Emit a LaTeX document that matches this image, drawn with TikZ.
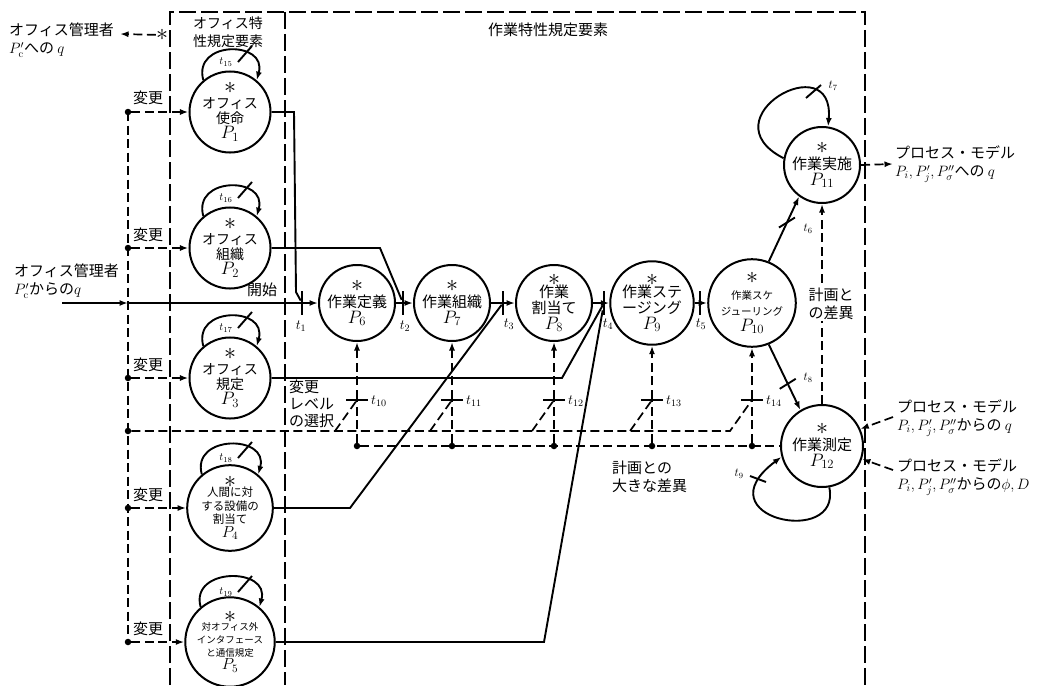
\documentclass[tikz,border=0pt]{standalone}
\usepackage{fix-cm}
\usepackage[no-math]{fontspec}
\setmainfont{Noto Sans CJK JP}
\usetikzlibrary{arrows.meta}
\newcommand\plstar{{\fontsize{24}{16}\selectfont$\ast$}}
\newcommand\pp[1]{{\fontsize{18}{16}\selectfont$P_{#1}$}}
\newcommand\pps[1]{{\fontsize{16}{14}\selectfont$P_{#1}$}}
\begin{document}
\begin{tikzpicture}[x=1pt,y=-1pt,
  every node/.style={inner sep=0pt},
  ln/.style={line width=1.9pt},
  dsh/.style={line width=1.7pt,dash pattern=on 9pt off 4.5pt},
  bxl/.style={line width=1.9pt,dash pattern=on 17pt off 5pt},
  arr/.style={-{Latex[length=8.5pt,width=6pt]}},
  pl/.style={circle,draw,line width=2pt,minimum size=76pt,align=center,font=\fontsize{15}{16}\selectfont},
  vbar/.style={fill=black,minimum width=2.2pt,minimum height=24pt},
  hbar/.style={fill=black,minimum width=22pt,minimum height=2.2pt},
  jdot/.style={circle,fill=black,minimum size=6.5pt},
  lab/.style={font=\fontsize{15}{18}\selectfont,align=left},
  tl/.style={font=\fontsize{14}{14}\selectfont},
  tls/.style={font=\fontsize{12}{12}\selectfont},
]
\useasboundingbox (0,0) rectangle (1043,685);
\fill[white] (0,0) rectangle (1043,685);

% frames
\draw[bxl] (170,685) -- (170,12) -- (865,12) -- (865,685);
\draw[bxl] (285,12) -- (285,685);
\node[lab,align=center,font=\fontsize{14}{18}\selectfont] (ttl1) at (228,32) {オフィス特\\性規定要素};
\node[lab] (ttl2) at (548,30) {作業特性規定要素};

% office places
\node[pl,font=\fontsize{14}{15}\selectfont] (P1) at (230,112) {\plstar\\オフィス\\使命\\\pp{1}};
\node[pl,font=\fontsize{14}{15}\selectfont] (P2) at (230,248) {\plstar\\オフィス\\組織\\\pp{2}};
\node[pl,font=\fontsize{14}{15}\selectfont] (P3) at (230,378) {\plstar\\オフィス\\規定\\\pp{3}};
\node[pl,font=\fontsize{11.5}{13.5}\selectfont] (P4) at (230,508) {\plstar\\[-4pt]人間に対\\する設備の\\割当て\\\pps{4}};
\node[pl,font=\fontsize{9.5}{13}\selectfont] (P5) at (230,642) {\plstar\\[-5pt]対オフィス外\\インタフェース\\と通信規定\\\pps{5}};

\foreach \p/\t in {P1/15,P2/16,P3/17,P4/18,P5/19}{
  \draw[ln,arr] (\p.130) .. controls +(-11,-40) and +(11,-40) .. (\p.50);
  \node[tls,font=\fontsize{11}{11}\selectfont] (lt\t) at ([shift={(-4,-50)}]\p.center) {$t_{\t}$};
  \draw[ln] ([shift={(8,-50)}]\p.center) -- ([shift={(22,-66)}]\p.center);
}

% left change bus
\node[jdot] (L1) at (128,112) {};
\node[jdot] (L2) at (128,248) {};
\node[jdot] (L3) at (128,378) {};
\node[jdot] (LB) at (128,431) {};
\node[jdot] (L4) at (128,508) {};
\node[jdot] (L5) at (128,642) {};
\draw[dsh] (L1.center) -- (L5.center);
\foreach \i in {1,...,5}{
  \draw[dsh,arr] (L\i) -- (P\i);
}
\node[lab] (c1) at (148,98) {変更};
\node[lab] (c2) at (148,235) {変更};
\node[lab] (c3) at (148,365) {変更};
\node[lab] (c4) at (148,495) {変更};
\node[lab] (c5) at (148,629) {変更};

% top-left output
\node[lab,anchor=west] (M1) at (9,40) {オフィス管理者\\$P'_{\mathrm c}$への $q$};
\node[font=\fontsize{24}{16}\selectfont] (ast0) at (162,35) {$\ast$};
\coordinate (M0) at (120,34);
\draw[dsh,arr] (ast0) -- (M0);

% start input
\node[lab,anchor=west] (M2) at (14,281) {オフィス管理者\\$P'_{\mathrm c}$からの$q$};
\coordinate (S0) at (62,303);
\coordinate (S1) at (128,303);
\node[lab] (start) at (262,290) {開始};

% main places
\node[pl] (P6) at (357,303) {\plstar\\作業定義\\\pp{6}};
\node[pl] (P7) at (452,303) {\plstar\\作業組織\\\pp{7}};
\node[pl] (P8) at (554,303) {\plstar\\[-4pt]作業\\割当て\\\pp{8}};
\node[pl] (P9) at (652,303) {\plstar\\[-4pt]作業ステ\\ージング\\\pp{9}};
\node[pl,font=\fontsize{10.5}{16}\selectfont] (P10) at (752,303) {\plstar\\作業スケ\\ジューリング\\\pp{10}};
\node[pl] (P11) at (822,165) {\plstar\\作業実施\\\pp{11}};
\node[pl,minimum size=82pt] (P12) at (822,446) {\plstar\\作業測定\\\pp{12}};

% transitions t1..t5
\node[vbar] (t1) at (302,303) {};
\node[vbar] (t2) at (403,303) {};
\node[vbar] (t3) at (503,303) {};
\node[vbar] (t4) at (604,303) {};
\node[vbar] (t5) at (700,303) {};
\node[tl] (lt1) at (301,326) {$t_1$};
\node[tl] (lt2) at (405,326) {$t_2$};
\node[tl] (lt3) at (509,324) {$t_3$};
\node[tl] (lt4) at (608,324) {$t_4$};
\node[tl] (lt5) at (701,324) {$t_5$};

\draw[ln,arr] (S0) -- (S1);
\draw[ln] (S1) -- (t1);
\draw[ln,arr] (t1) -- (P6);
\draw[ln] (P6) -- (t2); \draw[ln,arr] (t2) -- (P7);
\draw[ln] (P7) -- (t3); \draw[ln,arr] (t3) -- (P8);
\draw[ln] (P8) -- (t4); \draw[ln,arr] (t4) -- (P9);
\draw[ln] (P9) -- (t5); \draw[ln,arr] (t5) -- (P10);

% office outputs
\draw[ln] (P1.east) -- (294,112) -- (296,292) -- (t1);
\draw[ln] (P2.east) -- (380,248) -- (t2);
\draw[ln] (P3.east) -- (562,378) -- (t4);
\draw[ln] (P4.east) -- (350,508) -- (t3);
\draw[ln] (P5.east) -- (544,642) -- (t4);

% control transitions t10..t14
\foreach \x/\n/\p in {357/10/P6,452/11/P7,554/12/P8,652/13/P9,752/14/P10}{
  \node[jdot] (d\n) at (\x,446) {};
  \node[hbar] (t\n) at (\x,400) {};
  \node[tl,anchor=west] (lt\n) at (\x+14,401) {$t_{\n}$};
  \coordinate (B\n) at (\x-22,431);
  \draw[dsh] (d\n) -- (t\n);
  \draw[dsh,arr] (t\n) -- (\p);
}
\draw[dsh] (LB) -- (B14) -- (t14);
\foreach \n in {10,11,12,13}{
  \draw[dsh] (B\n) -- (t\n);
}
\draw[dsh] (d10) -- (P12);
\node[lab,font=\fontsize{15}{17}\selectfont,anchor=west] (lvl) at (289,404) {変更\\レベル\\の選択};
\node[lab,anchor=west] (big) at (612,477) {計画との\\大きな差異};

% right part
\draw[ln,arr] (P10.68) -- (P11.234) coordinate[pos=0.6] (t6);
\draw[ln] ([shift={(-8,5)}]t6) -- ([shift={(8,-5)}]t6);
\node[tls] (lt6) at (808,229) {$t_6$};
\draw[ln,arr] (P10.-68) -- (P12.121) coordinate[pos=0.6] (t8);
\draw[ln] ([shift={(-8,5)}]t8) -- ([shift={(8,-5)}]t8);
\node[tls] (lt8) at (808,378) {$t_8$};

\draw[dsh,arr] (P12) -- (P11);
\node[lab,fill=white,inner sep=1pt] (dev) at (831,304) {計画と\\の差異};

\draw[ln,arr] (P11.170) .. controls (705,118) and (835,45) .. (P11.81);
\draw[ln] (806,98) -- (821,85);
\node[tls] (lt7) at (833,86) {$t_7$};

\draw[ln,arr] (P12.-80) .. controls (842,548) and (700,518) .. (P12.195);
\draw[ln] (750,476) -- (766,482);
\node[tls] (lt9) at (739,474) {$t_9$};

\coordinate (O1) at (893,164);
\draw[dsh,arr] (P11.east) -- (O1);
\node[lab,anchor=west] (R1) at (895,164) {プロセス・モデル\\$P_i, P'_j, P''_\sigma$への $q$};
\coordinate (Q1) at (893,417);
\draw[dsh,arr] (Q1) -- (P12.24);
\node[lab,anchor=west] (R2) at (897,418) {プロセス・モデル\\$P_i, P'_j, P''_\sigma$からの $q$};
\coordinate (Q2) at (893,470);
\draw[dsh,arr] (Q2) -- (P12.-18);
\node[lab,anchor=west] (R3) at (897,477) {プロセス・モデル\\$P_i, P'_j, P''_\sigma$からの$\phi, D$};
\end{tikzpicture}
\end{document}
